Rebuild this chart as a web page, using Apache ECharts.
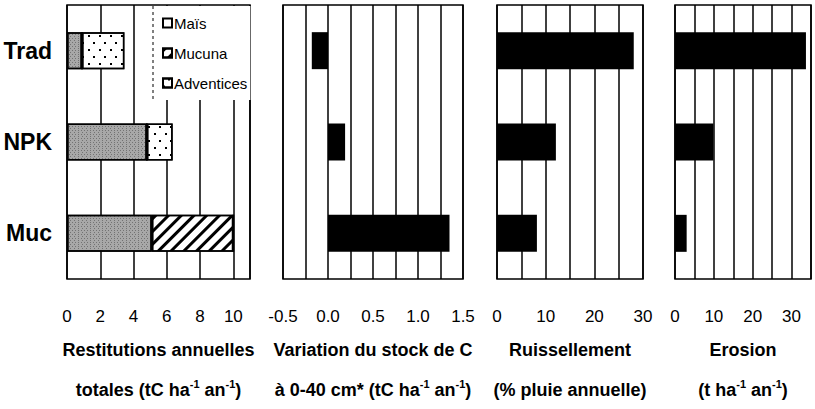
<!DOCTYPE html>
<html>
<head>
<meta charset="utf-8">
<script src="https://cdn.jsdelivr.net/npm/echarts@6/dist/echarts.min.js"></script>
<style>
html,body{margin:0;padding:0;background:#fff;}
#c{width:815px;height:409px;}
</style>
</head>
<body>
<div id="c"></div>
<script>
// ---- data ----
const categories = ['Trad', 'NPK', 'Muc'];
const mais = [0.9, 4.8, 5.1];
const mucuna = [0, 0, 4.9];
const adventices = [2.55, 1.55, 0];
const variationStock = [-0.18, 0.19, 1.35];
const ruissellement = [28.1, 12.1, 8.2];
const erosion = [33.7, 9.9, 3.0];
const seriesNames = ['Maïs', 'Mucuna', 'Adventices'];

const FONT = '"Liberation Sans", Arial, sans-serif';

const chart = echarts.init(document.getElementById('c'), null, {renderer: 'svg'});

const gridBase = {top: 5, height: 274, show: true, borderColor: '#000', borderWidth: 1.5,
  backgroundColor: 'transparent', containLabel: false, outerBoundsMode: 'none'};
const grids = [
  Object.assign({left: 67, width: 183}, gridBase),
  Object.assign({left: 283, width: 180}, gridBase),
  Object.assign({left: 497, width: 146}, gridBase),
  Object.assign({left: 675, width: 136}, gridBase)
];

function titleName(line1, unitParts) {
  let s = '{t|' + line1 + '}\n';
  unitParts.forEach(p => { s += (p[1] ? '{s|' : '{t|') + p[0] + '}'; });
  return s;
}
const nameRich = {
  t: {fontFamily: FONT, fontSize: 18, fontWeight: 'bold', color: '#000', lineHeight: 40},
  s: {fontFamily: FONT, fontSize: 11, fontWeight: 'bold', color: '#000', padding: [0, 0, 12, 0]}
};

function xAxisDef(gi, min, max, interval, labelFn, name) {
  return {
    type: 'value', gridIndex: gi, min: min, max: max, interval: interval,
    axisLine: {show: false}, axisTick: {show: false},
    splitLine: {show: true, lineStyle: {color: '#000', width: 1.5}},
    axisLabel: {fontFamily: FONT, fontSize: 17, color: '#000', margin: 29, formatter: labelFn,
      showMaxLabel: true, showMinLabel: true, hideOverlap: false},
    name: name, nameLocation: 'middle', nameGap: 51,
    nameTextStyle: {rich: nameRich, align: 'center'}
  };
}

const xAxes = [
  xAxisDef(0, 0, 11, 2, v => (v % 2 === 0 && v <= 10) ? String(v) : '',
    titleName('Restitutions annuelles', [['totales (tC ha', 0], ['-1', 1], [' an', 0], ['-1', 1], [')', 0]])),
  xAxisDef(1, -0.5, 1.5, 0.25, v => (Math.abs(Math.round(v * 2) - v * 2) < 1e-6) ? v.toFixed(1) : '',
    titleName('Variation du stock de C', [['à 0-40 cm* (tC ha', 0], ['-1', 1], [' an', 0], ['-1', 1], [')', 0]])),
  xAxisDef(2, 0, 30, 5, v => (v % 10 === 0) ? String(v) : '',
    titleName('Ruissellement', [['(% pluie annuelle)', 0]])),
  xAxisDef(3, 0, 35, 5, v => (v % 10 === 0 && v <= 30) ? String(v) : '',
    titleName('Erosion', [['(t ha', 0], ['-1', 1], [' an', 0], ['-1', 1], [')', 0]]))
];

const yAxes = [0, 1, 2, 3].map(gi => ({
  type: 'category', gridIndex: gi, data: categories, inverse: true,
  axisLine: {show: false}, axisTick: {show: false}, splitLine: {show: false},
  axisLabel: gi === 0 ? {fontFamily: FONT, fontSize: 23, fontWeight: 'bold', color: '#000', margin: 15} : {show: false}
}));

const BAR_W = 37;
const stackBorder = {borderColor: '#000', borderWidth: 1.5};

const series = [
  {
    name: seriesNames[0], type: 'bar', xAxisIndex: 0, yAxisIndex: 0, stack: 'rest', barWidth: BAR_W,
    data: mais,
    itemStyle: Object.assign({color: '#a8a8a8', decal: {symbol: 'rect', symbolSize: 1,
      dashArrayX: [[1, 2], [0, 1.5, 1, 0.5]], dashArrayY: [1, 1], color: 'rgba(50,50,50,0.45)', rotation: 0}}, stackBorder)
  },
  {
    name: seriesNames[1], type: 'bar', xAxisIndex: 0, yAxisIndex: 0, stack: 'rest', barWidth: BAR_W,
    data: mucuna,
    itemStyle: Object.assign({color: '#fff', decal: {symbol: 'rect', symbolSize: 1,
      dashArrayX: [1, 0], dashArrayY: [3, 6], color: '#000', rotation: -Math.PI / 4}}, stackBorder)
  },
  {
    name: seriesNames[2], type: 'bar', xAxisIndex: 0, yAxisIndex: 0, stack: 'rest', barWidth: BAR_W,
    data: adventices,
    itemStyle: Object.assign({color: '#fff', decal: {symbol: 'rect', symbolSize: 1,
      dashArrayX: [[1.5, 8.5], [0, 5, 1.5, 3.5]], dashArrayY: [1.5, 5], color: '#000', rotation: 0}}, stackBorder)
  },
  {type: 'bar', xAxisIndex: 1, yAxisIndex: 1, barWidth: BAR_W, data: variationStock, itemStyle: {color: '#000'}},
  {type: 'bar', xAxisIndex: 2, yAxisIndex: 2, barWidth: BAR_W, data: ruissellement, itemStyle: {color: '#000'}},
  {type: 'bar', xAxisIndex: 3, yAxisIndex: 3, barWidth: BAR_W, data: erosion, itemStyle: {color: '#000'}}
];

chart.setOption({
  animation: false,
  backgroundColor: '#fff',
  grid: grids,
  xAxis: xAxes,
  yAxis: yAxes,
  legend: {
    data: [
      {name: seriesNames[0], itemStyle: {color: '#fff', decal: 'none'}},
      {name: seriesNames[1]},
      {name: seriesNames[2]}
    ],
    orient: 'vertical', left: 153, top: 6,
    backgroundColor: '#fff', borderWidth: 0,
    padding: [8, 3, 8, 9], itemGap: 12, itemWidth: 9, itemHeight: 9, icon: 'rect',
    textStyle: {fontFamily: FONT, fontSize: 15, color: '#000', padding: [0, 0, 0, -3], lineHeight: 18}
  },
  graphic: [{
    type: 'line', shape: {x1: 153, y1: 6, x2: 153, y2: 99},
    style: {stroke: '#000', lineWidth: 1, lineDash: [3, 3]}, z: 100
  }],
  series: series
});
</script>
</body>
</html>
